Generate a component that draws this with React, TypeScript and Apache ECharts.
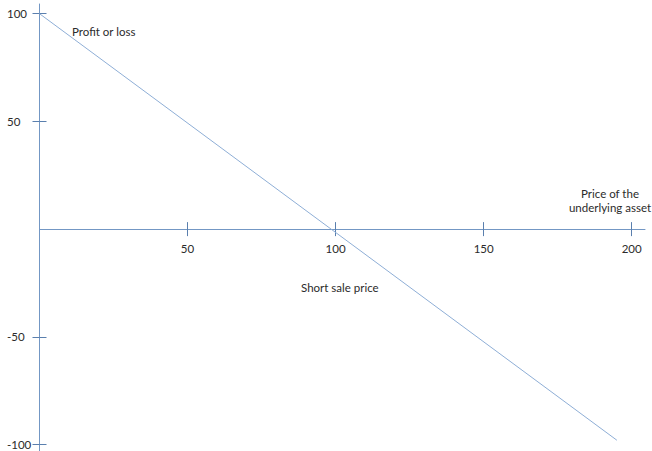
import React, { useEffect, useRef } from "react";
import * as echarts from "echarts";

const xTicks = [50, 100, 150, 200];
const yTicks = [-100, -50, 50, 100];
const payoffX = [0, 195];
const payoffY = [100, -98];
const yAxisTitle = "Profit or loss";
const xAxisTitle = "Price of the\nunderlying asset";
const strikeLabel = "Short sale price";

const FONT = 'Lato, "Open Sans", sans-serif';
const AXIS_COLOR = "#7397c4";
const TICK_COLOR = "#5a7fae";
const LINE_COLOR = "#8eaed6";
const TEXT_COLOR = "#2b2b2b";

const W = 652;
const H = 451;
const GRID_TOP = 4;
const GRID_BOTTOM = 0;
const Y_MIN = -103;
const Y_MAX = 104.5;

export default function App() {
  const ref = useRef<HTMLDivElement>(null);
  useEffect(() => {
    if (!ref.current) return;
    const chart = echarts.init(ref.current, undefined, { renderer: "svg" });
    const gridH = H - GRID_TOP - GRID_BOTTOM;
    const zeroFromBottom = (0 - Y_MIN) / (Y_MAX - Y_MIN) * gridH;
    const xBase = {
      type: "value" as const,
      min: 0,
      max: 204.5,
      position: "bottom" as const,
      offset: -zeroFromBottom,
      splitLine: { show: false },
    };
    const yBase = {
      type: "value" as const,
      min: Y_MIN,
      max: Y_MAX,
      position: "left" as const,
      splitLine: { show: false },
    };
    chart.setOption({
      animation: false,
      backgroundColor: "#ffffff",
      grid: {
        left: 39.5,
        right: 7,
        top: GRID_TOP,
        bottom: GRID_BOTTOM,
        containLabel: false,
        outerBoundsMode: "none",
      },
      xAxis: [
        {
          ...xBase,
          axisLine: { show: true, onZero: false, lineStyle: { color: AXIS_COLOR, width: 1 } },
          axisTick: { show: true, inside: false, length: 7, customValues: xTicks, lineStyle: { color: TICK_COLOR } },
          axisLabel: {
            show: true,
            customValues: xTicks,
            margin: 13,
            color: TEXT_COLOR,
            fontFamily: FONT,
            fontSize: 11.5,
          },
        },
        {
          ...xBase,
          axisLine: { show: false, onZero: false },
          axisTick: { show: true, inside: true, length: 7, customValues: xTicks, lineStyle: { color: TICK_COLOR } },
          axisLabel: { show: false },
        },
      ],
      yAxis: [
        {
          ...yBase,
          axisLine: { show: true, onZero: false, lineStyle: { color: AXIS_COLOR, width: 1 } },
          axisTick: { show: true, inside: false, length: 7, customValues: yTicks, lineStyle: { color: TICK_COLOR } },
          axisLabel: {
            show: true,
            customValues: yTicks,
            margin: 32.5,
            align: "left",
            color: TEXT_COLOR,
            fontFamily: FONT,
            fontSize: 11.5,
            lineHeight: 10,
          },
        },
        {
          ...yBase,
          axisLine: { show: false, onZero: false },
          axisTick: { show: true, inside: true, length: 7, customValues: yTicks, lineStyle: { color: TICK_COLOR } },
          axisLabel: { show: false },
        },
      ],
      graphic: [
        {
          type: "text",
          left: 72,
          top: 25,
          style: { text: yAxisTitle, fill: TEXT_COLOR, font: `11.5px ${FONT}` },
        },
        {
          type: "text",
          left: 301,
          top: 281,
          style: { text: strikeLabel, fill: TEXT_COLOR, font: `11.5px ${FONT}` },
        },
        {
          type: "text",
          x: 610,
          y: 186,
          style: {
            text: xAxisTitle,
            fill: TEXT_COLOR,
            font: `11.5px ${FONT}`,
            align: "center",
            lineHeight: 14,
          },
        },
      ],
      series: [
        {
          type: "line",
          xAxisIndex: 0,
          yAxisIndex: 0,
          data: payoffX.map((x, i) => [x, payoffY[i]]),
          symbol: "none",
          lineStyle: { color: LINE_COLOR, width: 1 },
        },
      ],
    });
    return () => chart.dispose();
  }, []);
  return (
    <div
      ref={ref}
      style={{ position: "fixed", left: 0, top: 0, width: W, height: H, background: "#fff" }}
    />
  );
}
